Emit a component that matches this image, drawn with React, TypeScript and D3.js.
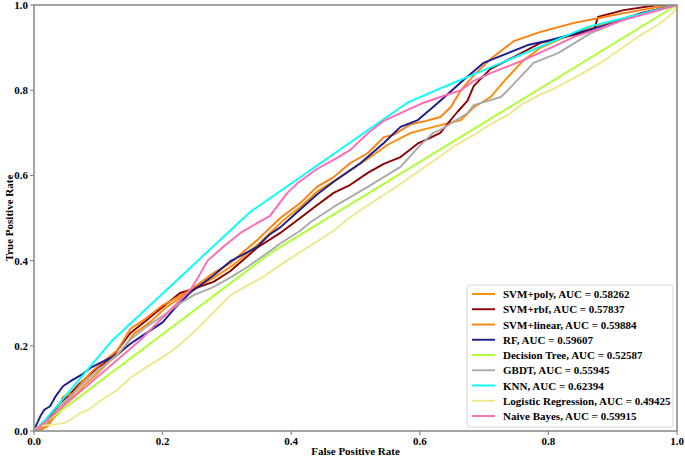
import React from "react";
import * as d3 from "d3";

type P = [number, number];

const xTicks = [0, 0.2, 0.4, 0.6, 0.8, 1.0];
const yTicks = [0, 0.2, 0.4, 0.6, 0.8, 1.0];

const seriesNames = [
  "SVM+poly, AUC = 0.58262",
  "SVM+rbf, AUC = 0.57837",
  "SVM+linear, AUC = 0.59884",
  "RF, AUC = 0.59607",
  "Decision Tree, AUC = 0.52587",
  "GBDT, AUC = 0.55945",
  "KNN, AUC = 0.62394",
  "Logistic Regression, AUC = 0.49425",
  "Naive Bayes, AUC = 0.59915",
];

const seriesColors = [
  "#ff8c00",
  "#8b0000",
  "#ff7f0e",
  "#1c1c8c",
  "#adff2f",
  "#a9a9a9",
  "#00ffff",
  "#f0e68c",
  "#ff69b4",
];

const svmPoly: P[] = [
  [0, 0], [0.012, 0.004], [0.022, 0.012], [0.03, 0.03], [0.04, 0.045], [0.05, 0.07],
  [0.065, 0.085], [0.08, 0.11], [0.095, 0.13], [0.115, 0.16], [0.135, 0.185], [0.155, 0.228],
  [0.18, 0.255], [0.205, 0.29], [0.243, 0.328], [0.28, 0.36], [0.31, 0.39], [0.35, 0.44],
  [0.388, 0.495], [0.415, 0.527], [0.44, 0.562], [0.47, 0.59], [0.5, 0.62], [0.525, 0.645],
  [0.55, 0.672], [0.586, 0.7], [0.632, 0.718], [0.664, 0.73], [0.684, 0.76], [0.71, 0.784],
  [0.737, 0.831], [0.762, 0.871], [0.788, 0.9], [0.84, 0.934], [0.893, 0.958], [0.944, 0.981], [1, 1],
];

const svmRbf: P[] = [
  [0, 0], [0.01, 0.01], [0.02, 0.025], [0.03, 0.045], [0.04, 0.065], [0.055, 0.085],
  [0.07, 0.11], [0.085, 0.13], [0.1, 0.15], [0.12, 0.17], [0.15, 0.23], [0.175, 0.26],
  [0.2, 0.291], [0.227, 0.324], [0.243, 0.331], [0.279, 0.35], [0.305, 0.375], [0.347, 0.43],
  [0.383, 0.465], [0.414, 0.5], [0.44, 0.53], [0.466, 0.559], [0.492, 0.578], [0.519, 0.606],
  [0.544, 0.627], [0.57, 0.643], [0.597, 0.675], [0.612, 0.685], [0.632, 0.7], [0.648, 0.73],
  [0.659, 0.75], [0.674, 0.775], [0.684, 0.81], [0.71, 0.85], [0.746, 0.878], [0.788, 0.911],
  [0.84, 0.93], [0.871, 0.941], [0.877, 0.972], [0.917, 0.988], [0.97, 1.0], [1, 1],
];

const svmLinear: P[] = [
  [0, 0], [0.01, 0.005], [0.02, 0.015], [0.025, 0.026], [0.036, 0.049], [0.045, 0.08],
  [0.061, 0.089], [0.075, 0.115], [0.09, 0.14], [0.11, 0.165], [0.13, 0.19], [0.15, 0.24],
  [0.175, 0.265], [0.2, 0.295], [0.243, 0.331], [0.279, 0.371], [0.305, 0.394], [0.347, 0.448],
  [0.383, 0.5], [0.414, 0.535], [0.44, 0.573], [0.466, 0.596], [0.492, 0.629], [0.519, 0.652],
  [0.544, 0.69], [0.559, 0.695], [0.586, 0.72], [0.61, 0.728], [0.632, 0.737], [0.648, 0.76],
  [0.664, 0.8], [0.684, 0.835], [0.71, 0.873], [0.746, 0.915], [0.788, 0.937], [0.84, 0.958],
  [0.877, 0.969], [0.917, 0.981], [0.97, 0.995], [1, 1],
];

const rf: P[] = [
  [0, 0], [0.003, 0.012], [0.01, 0.035], [0.016, 0.05], [0.025, 0.058], [0.033, 0.08],
  [0.045, 0.105], [0.06, 0.12], [0.075, 0.133], [0.09, 0.15], [0.11, 0.165], [0.13, 0.18],
  [0.15, 0.205], [0.17, 0.225], [0.2, 0.255], [0.22, 0.29], [0.243, 0.325], [0.279, 0.365],
  [0.305, 0.398], [0.347, 0.432], [0.367, 0.462], [0.383, 0.478], [0.414, 0.52], [0.44, 0.555],
  [0.466, 0.585], [0.508, 0.629], [0.544, 0.676], [0.57, 0.714], [0.597, 0.73], [0.628, 0.77],
  [0.668, 0.824], [0.699, 0.864], [0.737, 0.887], [0.768, 0.906], [0.804, 0.918], [0.861, 0.941],
  [0.902, 0.958], [0.944, 0.981], [1, 1],
];

const decisionTree: P[] = [
  [0, 0], [0.37, 0.42], [1, 1],
];

const gbdt: P[] = [
  [0, 0], [0.01, 0.008], [0.02, 0.02], [0.03, 0.04], [0.045, 0.065], [0.06, 0.085],
  [0.075, 0.11], [0.09, 0.13], [0.11, 0.155], [0.13, 0.18], [0.15, 0.215], [0.175, 0.245],
  [0.2, 0.27], [0.227, 0.3], [0.25, 0.32], [0.279, 0.338], [0.305, 0.36], [0.332, 0.385],
  [0.36, 0.415], [0.383, 0.44], [0.414, 0.47], [0.43, 0.49], [0.466, 0.526], [0.519, 0.573],
  [0.57, 0.62], [0.6, 0.67], [0.621, 0.7], [0.632, 0.707], [0.674, 0.746], [0.684, 0.765],
  [0.726, 0.784], [0.737, 0.8], [0.777, 0.864], [0.815, 0.887], [0.866, 0.934], [0.917, 0.965],
  [0.96, 0.985], [1, 1],
];

const knn: P[] = [
  [0, 0], [0.02, 0.03], [0.12, 0.21], [0.336, 0.514], [0.58, 0.77], [0.63, 0.803], [0.86, 0.948], [1, 1],
];

const logistic: P[] = [
  [0, 0], [0.002, 0.005], [0.01, 0.012], [0.03, 0.015], [0.048, 0.019], [0.06, 0.03],
  [0.072, 0.042], [0.085, 0.05], [0.098, 0.065], [0.11, 0.078], [0.129, 0.096], [0.15, 0.125],
  [0.175, 0.15], [0.201, 0.174], [0.225, 0.2], [0.254, 0.24], [0.28, 0.28], [0.305, 0.318],
  [0.33, 0.34], [0.357, 0.362], [0.383, 0.39], [0.414, 0.42], [0.44, 0.445], [0.466, 0.47],
  [0.49, 0.5], [0.519, 0.53], [0.545, 0.555], [0.57, 0.58], [0.6, 0.612], [0.632, 0.645],
  [0.655, 0.67], [0.684, 0.695], [0.71, 0.72], [0.737, 0.742], [0.76, 0.768], [0.788, 0.79],
  [0.815, 0.808], [0.84, 0.829], [0.865, 0.85], [0.893, 0.876], [0.92, 0.905], [0.944, 0.93],
  [0.97, 0.953], [0.985, 0.97], [0.995, 0.984], [1, 1],
];

const naiveBayes: P[] = [
  [0, 0], [0.01, 0.012], [0.165, 0.213], [0.243, 0.331], [0.255, 0.36], [0.27, 0.4],
  [0.294, 0.432], [0.321, 0.465], [0.347, 0.488], [0.367, 0.505], [0.394, 0.559], [0.41, 0.582],
  [0.44, 0.615], [0.47, 0.64], [0.492, 0.66], [0.52, 0.7], [0.544, 0.728], [0.581, 0.754],
  [0.605, 0.77], [0.632, 0.784], [0.664, 0.8], [0.684, 0.822], [0.71, 0.84], [0.762, 0.871],
  [0.8, 0.897], [0.84, 0.925], [0.88, 0.945], [0.917, 0.965], [0.96, 0.983], [1, 1],
];

const seriesData = [svmPoly, svmRbf, svmLinear, rf, decisionTree, gbdt, knn, logistic, naiveBayes];

const W = 685;
const H = 458;
const M = { left: 34, right: 677, top: 5, bottom: 431 };
const FONT = "'Liberation Serif', 'Times New Roman', serif";

export default function App() {
  const x = d3.scaleLinear().domain([0, 1]).range([M.left, M.right]);
  const y = d3.scaleLinear().domain([0, 1]).range([M.bottom, M.top]);
  const line = d3
    .line<P>()
    .x((d) => x(d[0]))
    .y((d) => y(d[1]));

  const legX = 467;
  const legY = 285;
  const legW = 206;
  const legH = 142;
  const rowH = 15.25;

  return (
    <svg
      width={W}
      height={H}
      style={{ position: "absolute", left: 0, top: 0, background: "#fff" }}
      fontFamily={FONT}
    >
      <defs>
        <clipPath id="plotclip">
          <rect x={M.left} y={M.top} width={M.right - M.left} height={M.bottom - M.top} />
        </clipPath>
      </defs>
      <g clipPath="url(#plotclip)">
        {seriesData.map((d, i) => (
          <path
            key={i}
            d={line(d) || ""}
            fill="none"
            stroke={seriesColors[i]}
            strokeWidth={1.9}
            strokeLinejoin="round"
          />
        ))}
      </g>
      <rect
        x={M.left}
        y={M.top}
        width={M.right - M.left}
        height={M.bottom - M.top}
        fill="none"
        stroke="#8c8c8c"
        strokeWidth={1.6}
      />
      {xTicks.map((t) => (
        <g key={"x" + t}>
          <line x1={x(t)} x2={x(t)} y1={M.bottom} y2={M.bottom + 4} stroke="#8c8c8c" strokeWidth={1.2} />
          <text
            x={x(t)}
            y={M.bottom + 14}
            textAnchor="middle"
            fontSize={11}
            fontWeight="bold"
            fill="#000"
          >
            {t.toFixed(1)}
          </text>
        </g>
      ))}
      {yTicks.map((t) => (
        <g key={"y" + t}>
          <line x1={M.left - 4} x2={M.left} y1={y(t)} y2={y(t)} stroke="#8c8c8c" strokeWidth={1.2} />
          <text
            x={M.left - 6}
            y={y(t) + 4}
            textAnchor="end"
            fontSize={11}
            fontWeight="bold"
            fill="#000"
          >
            {t.toFixed(1)}
          </text>
        </g>
      ))}
      <text
        x={(M.left + M.right) / 2}
        y={455}
        textAnchor="middle"
        fontSize={11}
        fontWeight="bold"
        fill="#000"
      >
        False Positive Rate
      </text>
      <text
        transform={`translate(13, ${(M.top + M.bottom) / 2}) rotate(-90)`}
        textAnchor="middle"
        fontSize={11}
        fontWeight="bold"
        fill="#000"
      >
        True Positive Rate
      </text>
      <rect
        x={legX}
        y={legY}
        width={legW}
        height={legH}
        rx={2.5}
        fill="#fff"
        fillOpacity={0.85}
        stroke="#d6d6d6"
        strokeWidth={1}
      />
      {seriesNames.map((name, i) => {
        const cy = legY + 9 + i * rowH;
        return (
          <g key={name}>
            <line x1={472} x2={495} y1={cy} y2={cy} stroke={seriesColors[i]} strokeWidth={1.9} />
            <text x={503} y={cy + 4} fontSize={11} fontWeight="bold" fill="#000">
              {name}
            </text>
          </g>
        );
      })}
    </svg>
  );
}
